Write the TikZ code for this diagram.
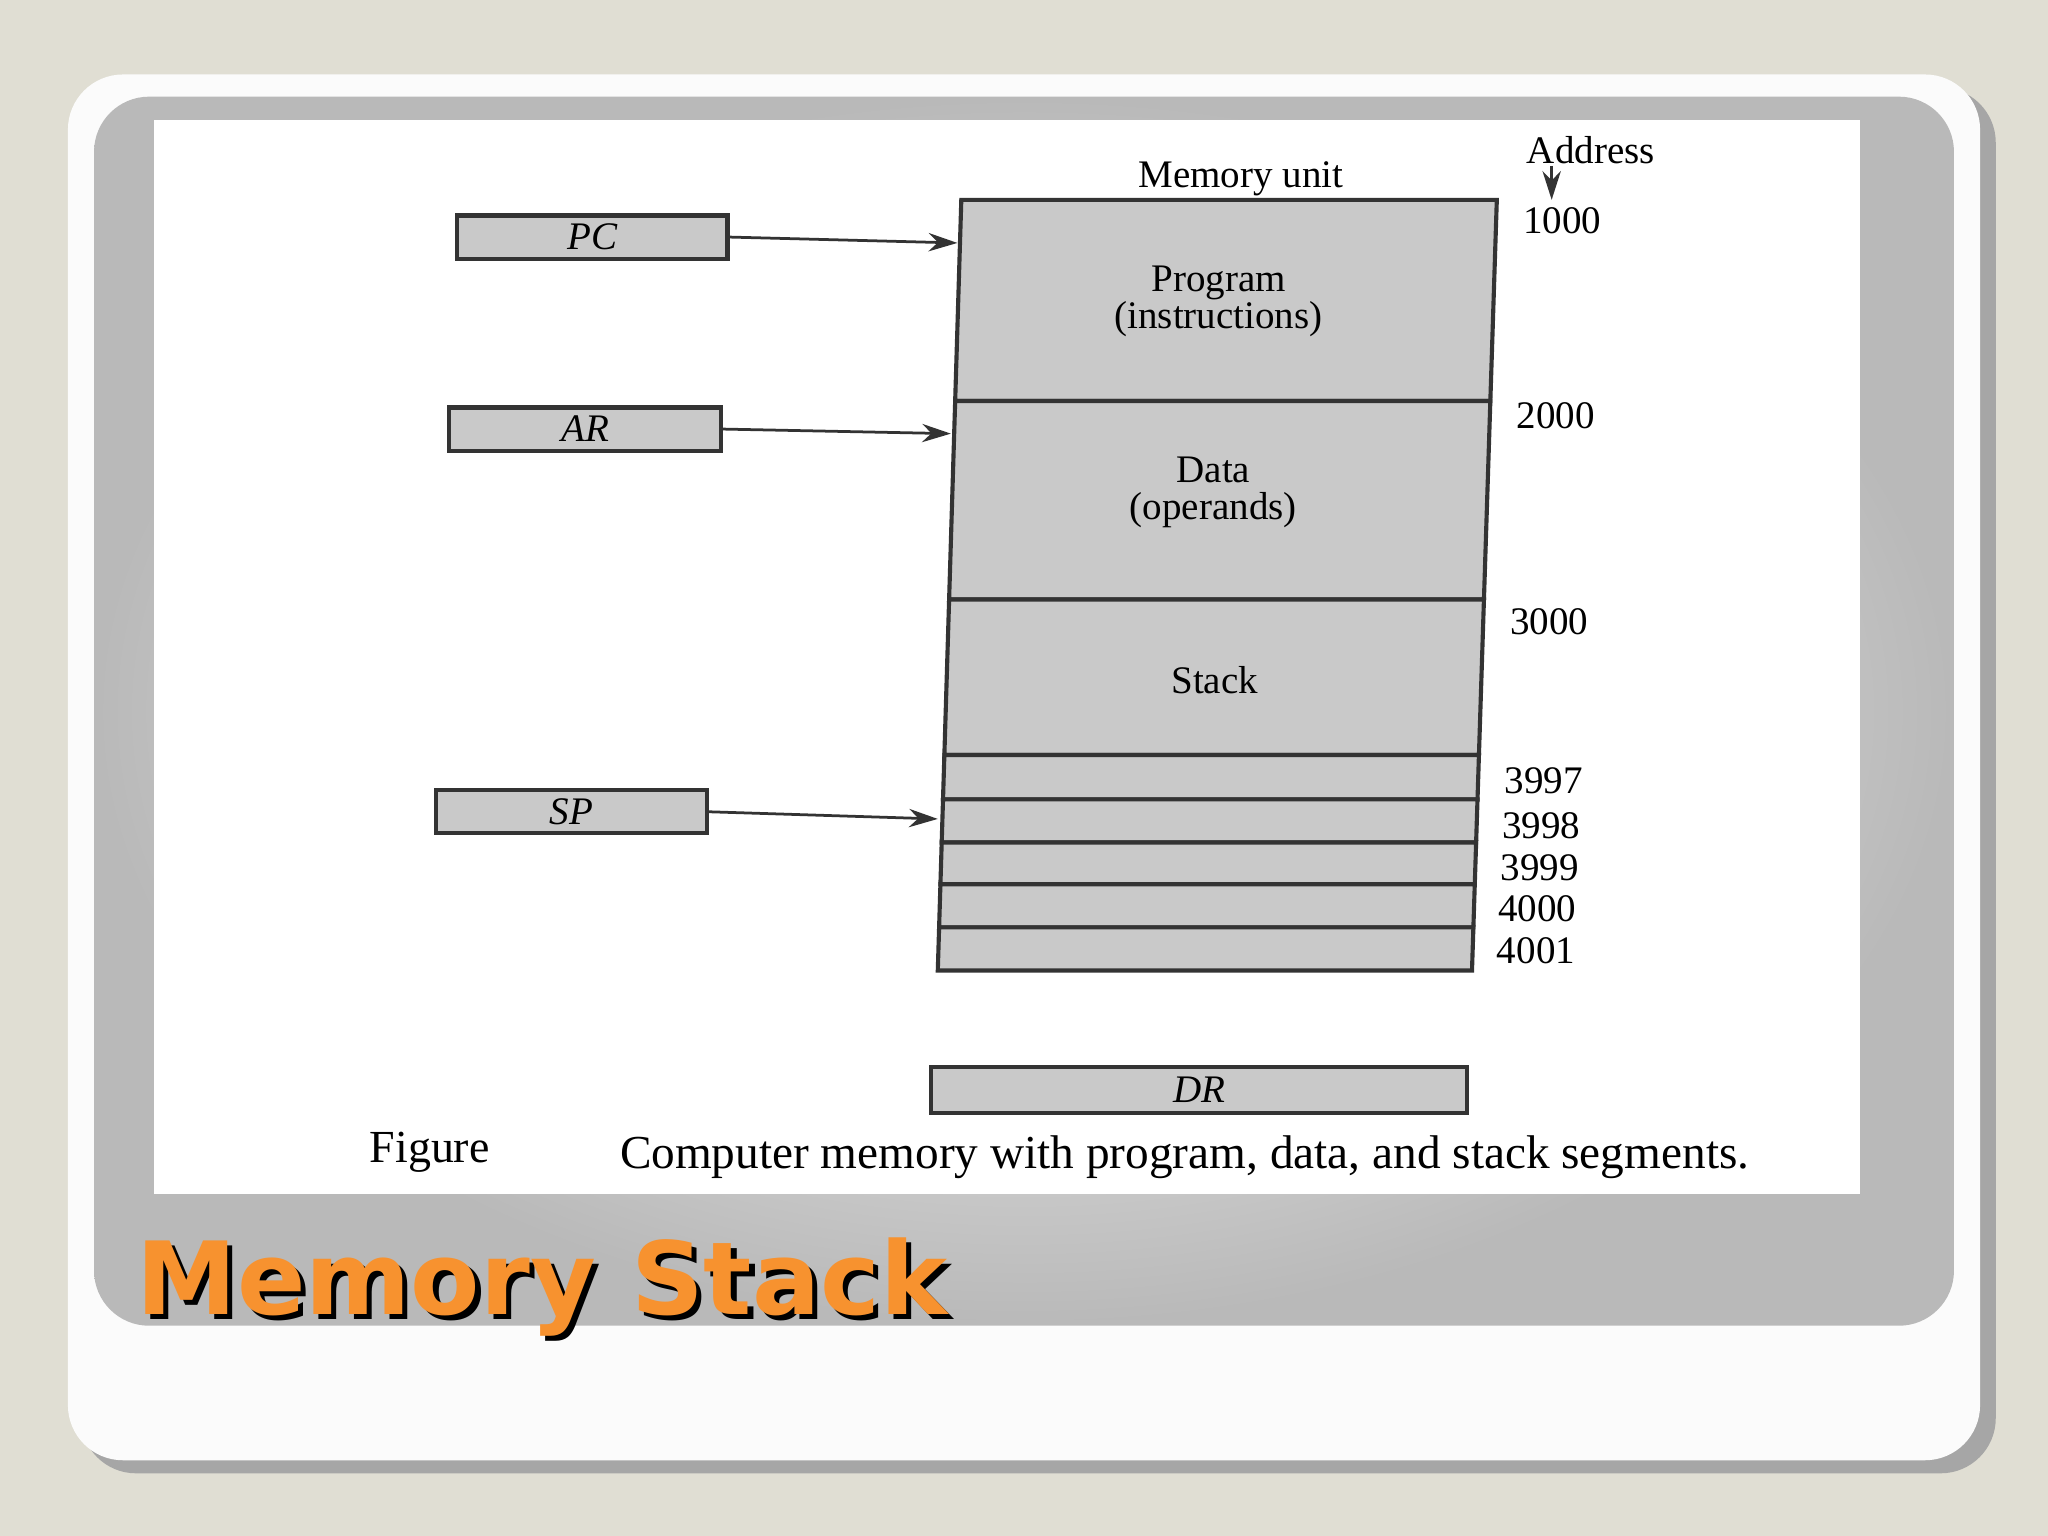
\documentclass[tikz,border=0pt]{standalone}
\usepackage{fontspec}
\setmainfont{Liberation Serif}
\newfontfamily\titlefont{DejaVu Sans}
\usetikzlibrary{arrows.meta}
\definecolor{bg}{HTML}{E0DED3}
\definecolor{cellgray}{HTML}{C9C9C9}
\definecolor{ttl}{HTML}{F7922F}
\tikzset{reg/.style={draw=black!80,fill=cellgray,line width=0.9pt,inner sep=0pt,font=\itshape\fontsize{8.5}{9}\selectfont},
 cell/.style={draw=black!80,fill=cellgray,line width=0.9pt},
 lbl/.style={font=\fontsize{8.5}{8}\selectfont,align=center,inner sep=0pt},
 arr/.style={-{Stealth[length=2.2mm,width=1.4mm]},line width=0.6pt,black!80}}
\begin{document}
\begin{tikzpicture}[x=0.1mm,y=-0.1mm]
\useasboundingbox (0,0) rectangle (1568,1176);
\fill[bg] (0,0) rectangle (1568,1176);
\fill[black!35,rounded corners=12] (62,67) rectangle (1528,1128);
\fill[white!97!gray,rounded corners=12] (52,57) rectangle (1516,1118);
\shade[inner color=white!96!gray,outer color=gray!55,rounded corners=12] (72,74) rectangle (1496,1015);
\fill[white] (118,92) rectangle (1424,914);
\foreach \ya/\yb/\n in {153/307/a,307/459/b,459/578/c,578/612/d,612/645/e,645/677/f,677/710/g,710/743/h}{
 \pgfmathsetmacro\la{736-18*(\ya-153)/590}
 \pgfmathsetmacro\lb{736-18*(\yb-153)/590}
 \pgfmathsetmacro\ra{1146-19*(\ya-153)/590}
 \pgfmathsetmacro\rb{1146-19*(\yb-153)/590}
 \draw[cell] (\la,\ya) -- (\ra,\ya) -- (\rb,\yb) -- (\lb,\yb) -- cycle;
}
\coordinate (pcT) at (733,186);
\coordinate (arT) at (728,332);
\coordinate (spT) at (718,627);
\node[lbl] (mu) at (950,137) {Memory unit};
\node[lbl] (addr) at (1218,115) {Address};
\coordinate (addrT) at (1188,153);
\draw[arr] (1188,127) -- (addrT);
\foreach \x/\y/\t in {1196/169/1000,1191/318/2000,1186/476/3000,1182/598/3997,1180/632/3998,1179/664/3999,1177/696/4000,1176/728/4001}
 \node[lbl] at (\x,\y) {\t};
\node[lbl] (prog) at (933,231) {Program\\(instructions)};
\node[lbl] (data) at (929,377) {Data\\(operands)};
\node[lbl] (stack) at (930,521) {Stack};
\node[reg,minimum width=207*0.1mm,minimum height=33*0.1mm] (pc) at (453.5,181.5) {PC};
\node[reg,minimum width=208*0.1mm,minimum height=33*0.1mm] (ar) at (448,328.5) {AR};
\node[reg,minimum width=207*0.1mm,minimum height=33*0.1mm] (sp) at (437.5,621.5) {SP};
\node[reg,minimum width=410*0.1mm,minimum height=35*0.1mm] (dr) at (918,834.5) {DR};
\draw[arr] (pc.east) -- (pcT);
\draw[arr] (ar.east) -- (arT);
\draw[arr] (sp.east) -- (spT);
\node[lbl,font=\fontsize{10}{10}\selectfont] (fig) at (329,882) {Figure};
\node[lbl,font=\fontsize{10.3}{10}\selectfont] (cap) at (907,886) {Computer memory with program, data, and stack segments.};
\node[font=\titlefont\bfseries\fontsize{22}{24}\selectfont,text=black,inner sep=0pt] at (419,989) {Memory Stack};
\node[font=\titlefont\bfseries\fontsize{22}{24}\selectfont,text=ttl,inner sep=0pt] (title) at (415,985) {Memory Stack};
\end{tikzpicture}
\end{document}
